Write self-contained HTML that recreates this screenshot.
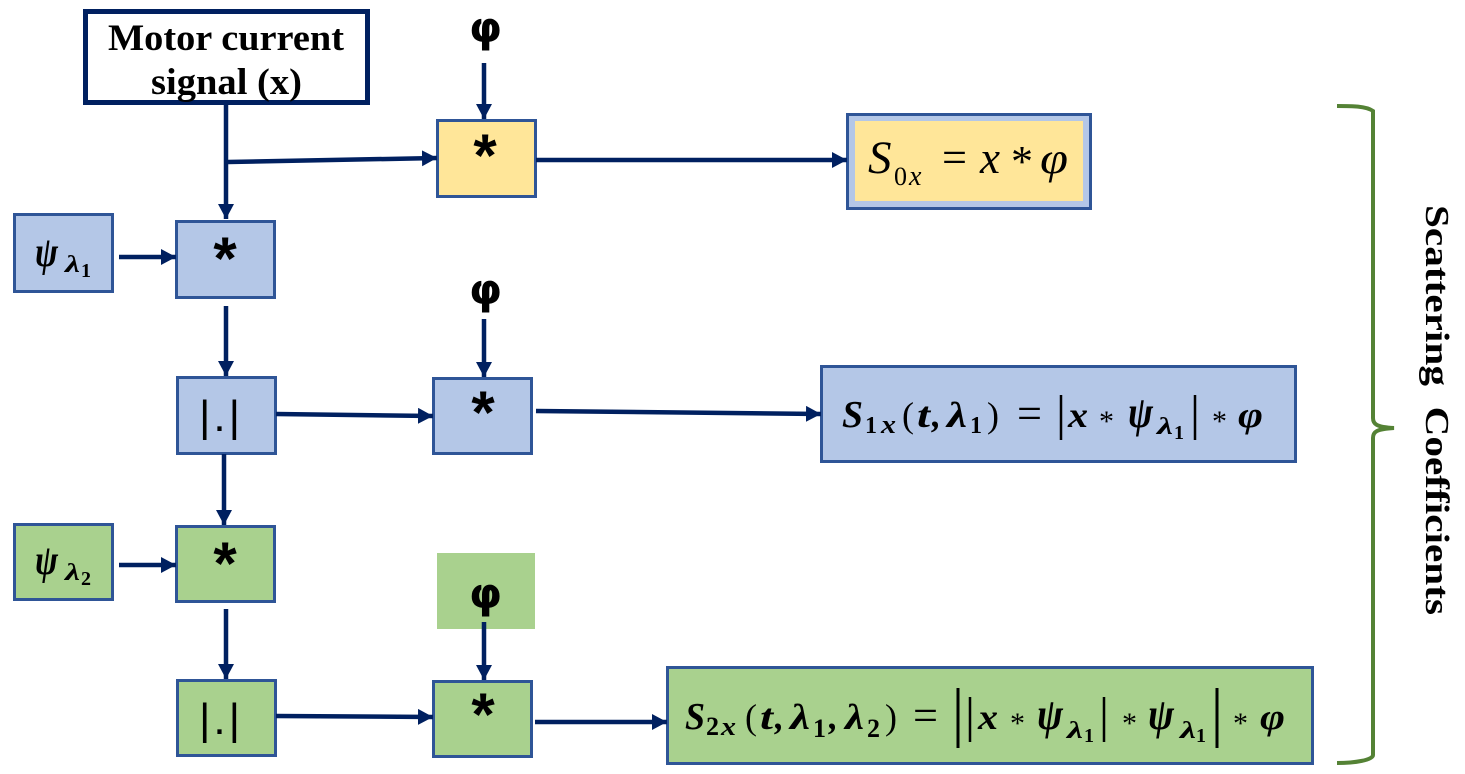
<!DOCTYPE html>
<html><head><meta charset="utf-8"><style>
html,body{margin:0;padding:0;background:#fff}
svg{display:block}
.b{stroke:#2f5597;stroke-width:3}
.m{font-family:"Liberation Serif","DejaVu Serif",serif;font-style:italic;font-weight:bold;fill:#000}
.d{font-family:"Liberation Serif","DejaVu Serif",serif;font-weight:bold;fill:#000}
.r{font-family:"Liberation Serif","DejaVu Serif",serif;fill:#000}
.i{font-family:"Liberation Serif","DejaVu Serif",serif;font-style:italic;fill:#000}
.a{font-family:"Liberation Sans",sans-serif;font-weight:bold;font-size:60px;fill:#000;text-anchor:middle}
.p{font-family:"DejaVu Sans",sans-serif;font-weight:bold;font-size:42px;fill:#000}
.abs{font-family:"Liberation Sans",sans-serif;font-size:44px;fill:#000}
</style></head><body>
<svg width="1465" height="774" viewBox="0 0 1465 774" xmlns="http://www.w3.org/2000/svg">
<defs><marker id="h" markerUnits="userSpaceOnUse" markerWidth="16" markerHeight="16" refX="15" refY="8" orient="auto"><path d="M0 0L15 8L0 16Z" fill="#002060"/></marker></defs>

<rect x="85.500" y="11.500" width="282" height="91" fill="#fff" stroke="#002060" stroke-width="5"/>
<text x="108" y="50" class="d" font-size="37" textLength="236" lengthAdjust="spacingAndGlyphs">Motor current</text>
<text x="151" y="94" class="d" font-size="37" textLength="151" lengthAdjust="spacingAndGlyphs">signal (x)</text>

<rect class="b" fill="#ffe699" x="437.500" y="120.500" width="98" height="76"/>
<rect class="b" fill="#b4c7e7" x="176.500" y="221.500" width="98" height="76"/>
<rect class="b" fill="#b4c7e7" x="14.500" y="214.500" width="98" height="77"/>
<rect class="b" fill="#b4c7e7" x="177.500" y="377.500" width="98" height="76"/>
<rect class="b" fill="#b4c7e7" x="433.500" y="378.500" width="98" height="75"/>
<rect class="b" fill="#a9d18e" x="14.500" y="524.500" width="98" height="75"/>
<rect class="b" fill="#a9d18e" x="176.500" y="526.500" width="98" height="75"/>
<rect class="b" fill="#a9d18e" x="177.500" y="680.500" width="98" height="75"/>
<rect class="b" fill="#a9d18e" x="433.500" y="681.500" width="98" height="75"/>
<rect fill="#a9d18e" x="437" y="553" width="98" height="76"/>

<rect class="b" fill="#b4c7e7" x="847.500" y="114.500" width="243" height="94"/>
<rect fill="#ffe699" x="855" y="121" width="228" height="80"/>
<rect class="b" fill="#b4c7e7" x="821.500" y="366.500" width="474" height="95"/>
<rect class="b" fill="#a9d18e" x="667.500" y="667.500" width="645" height="96"/>

<g stroke="#002060" stroke-width="4.500" fill="none">
<path d="M226 105V219" marker-end="url(#h)"/>
<path d="M228 162L437 158" marker-end="url(#h)"/>
<path d="M484 63V119" marker-end="url(#h)"/>
<path d="M536 160H847" marker-end="url(#h)"/>
<path d="M119 257H176" marker-end="url(#h)"/>
<path d="M226 306V376" marker-end="url(#h)"/>
<path d="M276 414L433 416" marker-end="url(#h)"/>
<path d="M484 319V377" marker-end="url(#h)"/>
<path d="M536 411L821 414" marker-end="url(#h)"/>
<path d="M224 454V525" marker-end="url(#h)"/>
<path d="M119 565H176" marker-end="url(#h)"/>
<path d="M226 609V679" marker-end="url(#h)"/>
<path d="M276 716L433 717" marker-end="url(#h)"/>
<path d="M484 622V680" marker-end="url(#h)"/>
<path d="M535 722H667" marker-end="url(#h)"/>
</g>

<text class="a" x="485" y="176">*</text>
<text class="a" x="225" y="279">*</text>
<text class="a" x="483" y="433">*</text>
<text class="a" x="225" y="584">*</text>
<text class="a" x="483" y="735">*</text>

<text class="p" x="469" y="42" textLength="33" lengthAdjust="spacingAndGlyphs">φ</text>
<text class="p" x="469" y="304" textLength="33" lengthAdjust="spacingAndGlyphs">φ</text>
<text class="p" x="469" y="608" textLength="33" lengthAdjust="spacingAndGlyphs">φ</text>

<text class="abs" x="199" y="431" textLength="41">|.|</text>
<text class="abs" x="199" y="734" textLength="41">|.|</text>

<text class="m" x="35" y="266" font-size="42" textLength="23" lengthAdjust="spacingAndGlyphs">ψ</text><text class="m" x="65" y="272" font-size="24" textLength="15" lengthAdjust="spacingAndGlyphs">λ</text><text class="d" x="81" y="277" font-size="20">1</text>
<text class="m" x="35" y="574" font-size="42" textLength="23" lengthAdjust="spacingAndGlyphs">ψ</text><text class="m" x="65" y="580" font-size="24" textLength="15" lengthAdjust="spacingAndGlyphs">λ</text><text class="d" x="81" y="585" font-size="20">2</text>

<!-- S0 -->
<text class="i" x="868" y="173" font-size="47">S</text>
<text class="r" x="894" y="185" font-size="26">0</text><text class="i" x="909" y="185" font-size="28">x</text>
<text class="r" x="942" y="172" font-size="44" textLength="25" lengthAdjust="spacingAndGlyphs">=</text>
<text class="i" x="980" y="173" font-size="46" textLength="20" lengthAdjust="spacingAndGlyphs">x</text>
<text class="r" x="1011" y="176" font-size="44">*</text>
<text class="i" x="1040" y="173" font-size="44" textLength="28" lengthAdjust="spacingAndGlyphs">φ</text>

<!-- S1 -->
<text class="m" x="842" y="427" font-size="38" textLength="21" lengthAdjust="spacingAndGlyphs">S</text>
<text class="d" x="865" y="433" font-size="24">1</text><text class="m" x="881" y="433" font-size="26" textLength="15" lengthAdjust="spacingAndGlyphs">x</text>
<text class="r" x="902" y="427" font-size="36">(</text>
<text class="m" x="917" y="427" font-size="36" textLength="13" lengthAdjust="spacingAndGlyphs">t</text>
<text class="m" x="932" y="427" font-size="36">,</text>
<text class="m" x="947" y="427" font-size="36" textLength="20" lengthAdjust="spacingAndGlyphs">λ</text>
<text class="d" x="970" y="433" font-size="24">1</text>
<text class="r" x="987" y="427" font-size="36">)</text>
<text class="r" x="1017" y="428" font-size="44" textLength="25" lengthAdjust="spacingAndGlyphs">=</text>
<path d="M1061 395V440M1195 395V440" stroke="#000" stroke-width="2.500"/>
<text class="m" x="1068" y="427" font-size="36" textLength="20" lengthAdjust="spacingAndGlyphs">x</text>
<text class="r" x="1099" y="431" font-size="30">*</text>
<text class="m" x="1128" y="427" font-size="44" textLength="25" lengthAdjust="spacingAndGlyphs">ψ</text>
<text class="m" x="1157" y="434" font-size="24" textLength="16" lengthAdjust="spacingAndGlyphs">λ</text>
<text class="d" x="1174" y="439" font-size="20">1</text>
<text class="r" x="1212" y="431" font-size="30">*</text>
<text class="m" x="1238" y="427" font-size="36" textLength="25" lengthAdjust="spacingAndGlyphs">φ</text>

<!-- S2 -->
<text class="m" x="685" y="729" font-size="38" textLength="20" lengthAdjust="spacingAndGlyphs">S</text>
<text class="d" x="706" y="735" font-size="26">2</text><text class="m" x="721" y="735" font-size="26" textLength="15" lengthAdjust="spacingAndGlyphs">x</text>
<text class="r" x="745" y="729" font-size="36">(</text>
<text class="m" x="760" y="729" font-size="36" textLength="13" lengthAdjust="spacingAndGlyphs">t</text>
<text class="m" x="775" y="729" font-size="36">,</text>
<text class="m" x="790" y="729" font-size="36" textLength="20" lengthAdjust="spacingAndGlyphs">λ</text>
<text class="d" x="813" y="737" font-size="26">1</text>
<text class="m" x="829" y="729" font-size="36">,</text>
<text class="m" x="845" y="729" font-size="36" textLength="19" lengthAdjust="spacingAndGlyphs">λ</text>
<text class="d" x="867" y="737" font-size="26">2</text>
<text class="r" x="885" y="729" font-size="36">)</text>
<text class="r" x="913" y="730" font-size="44" textLength="25" lengthAdjust="spacingAndGlyphs">=</text>
<path d="M958 688V748M1217 688V748" stroke="#000" stroke-width="3"/>
<path d="M970 697V742M1104 697V742" stroke="#000" stroke-width="2.500"/>
<text class="m" x="978" y="729" font-size="36" textLength="20" lengthAdjust="spacingAndGlyphs">x</text>
<text class="r" x="1010" y="733" font-size="30">*</text>
<text class="m" x="1037" y="729" font-size="44" textLength="26" lengthAdjust="spacingAndGlyphs">ψ</text>
<text class="m" x="1067" y="738" font-size="24" textLength="16" lengthAdjust="spacingAndGlyphs">λ</text>
<text class="d" x="1084" y="742" font-size="20">1</text>
<text class="r" x="1122" y="733" font-size="30">*</text>
<text class="m" x="1148" y="729" font-size="44" textLength="26" lengthAdjust="spacingAndGlyphs">ψ</text>
<text class="m" x="1180" y="738" font-size="24" textLength="16" lengthAdjust="spacingAndGlyphs">λ</text>
<text class="d" x="1196" y="742" font-size="20">1</text>
<text class="r" x="1233" y="733" font-size="30">*</text>
<text class="m" x="1260" y="729" font-size="36" textLength="25" lengthAdjust="spacingAndGlyphs">φ</text>

<path d="M1337 106C1352 106 1366 106 1373 111V418C1373 424 1376 427 1394 428C1376 429 1373 432 1373 438V755C1373 760 1355 763 1337 763" fill="none" stroke="#548235" stroke-width="4"/>

<text class="d" font-size="34" text-anchor="middle" transform="translate(1426 410) rotate(90)" textLength="410" lengthAdjust="spacingAndGlyphs">Scattering&#160;&#160;Coefficients</text>
</svg>
</body></html>
